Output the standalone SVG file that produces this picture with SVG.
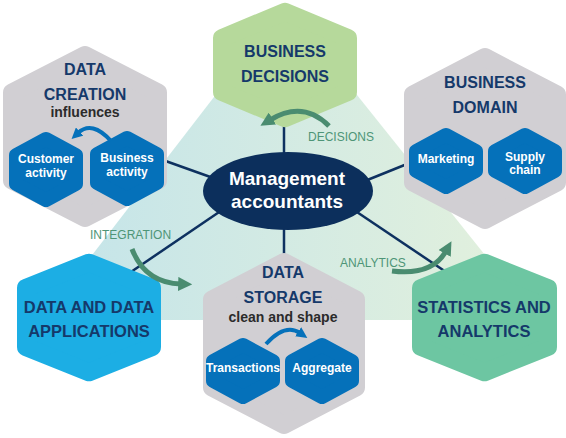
<svg xmlns="http://www.w3.org/2000/svg" width="566" height="438" viewBox="0 0 566 438">
<defs>
<linearGradient id="bg" x1="42" y1="0" x2="537" y2="0" gradientUnits="userSpaceOnUse">
<stop offset="0" stop-color="#C3E4EA"/>
<stop offset="1" stop-color="#E4F1DC"/>
</linearGradient>
<marker id="ga" viewBox="0 0 10 10" refX="2" refY="5" markerWidth="14" markerHeight="14" markerUnits="userSpaceOnUse" orient="auto">
<path d="M0,0 L10,5 L0,10 z" fill="#4A8C70"/>
</marker>
<marker id="ba" viewBox="0 0 10 10" refX="2" refY="5" markerWidth="11" markerHeight="11" markerUnits="userSpaceOnUse" orient="auto">
<path d="M0,0 L10,5 L0,10 z" fill="#0571BA"/>
</marker>
</defs>
<style>
.big{stroke-width:18;stroke-linejoin:round}
.sm{stroke-width:14;stroke-linejoin:round;fill:#0571BA;stroke:#0571BA}
.gray{fill:#D1CFD3;stroke:#D1CFD3}
.t{font-family:"Liberation Sans",Arial,sans-serif;font-weight:bold;font-size:16px;fill:#15396A;text-anchor:middle}
.sub{font-family:"Liberation Sans",Arial,sans-serif;font-weight:bold;font-size:14px;fill:#2B2B2B;text-anchor:middle}
.w{font-family:"Liberation Sans",Arial,sans-serif;font-weight:bold;font-size:12px;fill:#FFFFFF;text-anchor:middle}
.lab{font-family:"Liberation Sans",Arial,sans-serif;font-size:12px;fill:#4E9577}
.spoke{stroke:#0E3160;stroke-width:2.5;fill:none}
.garrow{stroke:#4A8C70;stroke-width:5;fill:none;marker-end:url(#ga)}
.barrow{stroke:#0571BA;stroke-width:4;fill:none;marker-end:url(#ba)}
</style>
<polygon points="285,5 42,320 537,320" fill="url(#bg)"/>
<g id="connectors">
<line class="spoke" x1="284" y1="110" x2="284" y2="190"/>
<line class="spoke" x1="284" y1="190" x2="284" y2="262"/>
<line class="spoke" x1="160" y1="159" x2="230" y2="184"/>
<line class="spoke" x1="345" y1="189" x2="412" y2="162"/>
<line class="spoke" x1="125" y1="276" x2="228" y2="206"/>
<line class="spoke" x1="345" y1="204" x2="452" y2="276"/>
</g>
<g id="business-decisions">
<polygon class="big" fill="#B6D99B" stroke="#B6D99B" points="285,11.75 348,38 348,92 285,118.25 222,92 222,38"/>
<text class="t" x="285" y="57">BUSINESS</text>
<text class="t" x="285" y="82">DECISIONS</text>
</g>
<g id="data-creation">
<polygon class="big gray" points="85,55.1 158,92.5 158,180.5 85,217.9 12,180.5 12,92.5"/>
<text class="t" x="85" y="75">DATA</text>
<text class="t" x="85" y="100">CREATION</text>
<text class="sub" x="85" y="117">influences</text>
</g>
<g id="customer-activity">
<polygon class="sm" points="46,139 76,155.2 76,183.8 46,200 16,183.8 16,155.2"/>
<text class="w" x="46" y="163">Customer</text>
<text class="w" x="46" y="177">activity</text>
</g>
<g id="business-activity">
<polygon class="sm" points="127,138 157,154.2 157,182.8 127,199 97,182.8 97,154.2"/>
<text class="w" x="127" y="162">Business</text>
<text class="w" x="127" y="176">activity</text>
</g>
<g id="business-domain">
<polygon class="big gray" points="485,57.1 557,94.4 557,182.6 485,219.9 413,182.6 413,94.4"/>
<text class="t" x="485" y="88">BUSINESS</text>
<text class="t" x="485" y="113">DOMAIN</text>
</g>
<g id="marketing">
<polygon class="sm" points="446,135 476,151.2 476,170.8 446,187 416,170.8 416,151.2"/>
<text class="w" x="446" y="163">Marketing</text>
</g>
<g id="supply-chain">
<polygon class="sm" points="525,135 555,151.2 555,170.8 525,187 495,170.8 495,151.2"/>
<text class="w" x="525" y="161">Supply</text>
<text class="w" x="525" y="174">chain</text>
</g>
<g id="data-applications">
<polygon class="big" fill="#1CAEE4" stroke="#1CAEE4" points="89,262.7 152,287.9 152,347.1 89,372.3 26,347.1 26,287.9"/>
<text class="t" x="89" y="313" style="font-size:16.5px">DATA AND DATA</text>
<text class="t" x="89" y="337" style="font-size:16.5px">APPLICATIONS</text>
</g>
<g id="data-storage">
<polygon class="big gray" points="284,262.1 356,299.4 356,387.6 284,424.9 212,387.6 212,299.4"/>
<text class="t" x="283" y="278">DATA</text>
<text class="t" x="283" y="303">STORAGE</text>
<text class="sub" x="283" y="322">clean and shape</text>
</g>
<g id="transactions">
<polygon class="sm" points="243,345 273,361.2 273,380.8 243,397 213,380.8 213,361.2"/>
<text class="w" x="243" y="372">Transactions</text>
</g>
<g id="aggregate">
<polygon class="sm" points="322,345 352,361.2 352,380.8 322,397 292,380.8 292,361.2"/>
<text class="w" x="322" y="372">Aggregate</text>
</g>
<g id="statistics-analytics">
<polygon class="big" fill="#6DC6A2" stroke="#6DC6A2" points="484.5,262.7 548,288.1 548,346.9 484.5,372.3 421,346.9 421,288.1"/>
<text class="t" x="484" y="313" style="font-size:16.5px">STATISTICS AND</text>
<text class="t" x="484" y="337" style="font-size:16.5px">ANALYTICS</text>
</g>
<g id="management-accountants">
<ellipse cx="288" cy="191" rx="85" ry="39" fill="#0C2F5C"/>
<text class="w" x="287" y="185" style="font-size:19px">Management</text>
<text class="w" x="287" y="208" style="font-size:19px">accountants</text>
</g>
<g id="flow-arrows">
<path class="garrow" d="M329,126 Q303,100 270,120"/>
<path class="garrow" d="M132,249 Q145,283 181,284"/>
<path class="garrow" d="M392,271 Q432,276 446,251"/>
<path class="barrow" d="M111,141 Q92,120 78,133"/>
<path class="barrow" d="M266,344 Q285,323 300,333"/>
<text class="lab" x="308" y="141">DECISIONS</text>
<text class="lab" x="90" y="239">INTEGRATION</text>
<text class="lab" x="340" y="267">ANALYTICS</text>
</g>
</svg>
